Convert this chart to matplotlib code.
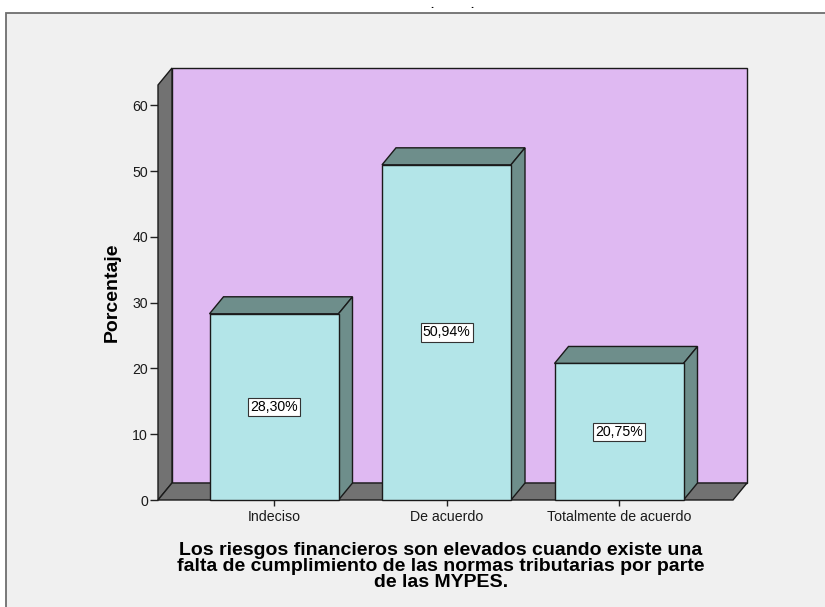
import matplotlib
matplotlib.use("Agg")
import matplotlib.pyplot as plt
from matplotlib.patches import Polygon, Rectangle

categories = ["Indeciso", "De acuerdo", "Totalmente de acuerdo"]
percentages = [28.30, 50.94, 20.75]
value_labels = ["28,30%", "50,94%", "20,75%"]
yticks = [0, 10, 20, 30, 40, 50, 60]
xlabel_text = ("Los riesgos financieros son elevados cuando existe una\n"
               "falta de cumplimiento de las normas tributarias por parte\n"
               "de las MYPES.")
ylabel_text = "Porcentaje"

plt.rcParams['font.family'] = ['Liberation Sans', 'DejaVu Sans']

W, H = 825, 607
fig = plt.figure(figsize=(W / 100, H / 100), dpi=100)
fig.patch.set_facecolor('white')

bg = fig.add_axes([0, 0, 1, 1], zorder=0)
bg.set_xlim(0, W)
bg.set_ylim(H, 0)
bg.axis('off')
bg.add_patch(Rectangle((6, 13), W + 10, H + 10, facecolor='#f0f0f0',
                       edgecolor='#6e6e6e', lw=1.3))
bg.text(432, 7.5, ".", fontsize=8, ha='center', va='baseline', fontweight='bold')
bg.text(472, 7.5, ".", fontsize=8, ha='center', va='baseline', fontweight='bold')

ax = fig.add_axes([158 / W, (H - 500) / H, 575 / W, 415 / H], zorder=1)
ax.set_facecolor('none')
sx = 172.5
xmin = -(274 - 158) / sx
xmax = (733 - 274) / sx
ymax = 63.07
ppy = 415 / ymax
ax.set_xlim(xmin, xmax)
ax.set_ylim(0, ymax)
DX = 14 / sx
DY = 17 / ppy
bw = 129 / sx

wall = '#dfb9f2'
gray = '#727272'
front = '#b3e5e8'
topc = '#6e8e8b'
ec = '#1a1a1a'
lw = 1.0

# back wall
ax.add_patch(Rectangle((xmin + DX, DY), xmax - xmin, ymax, facecolor=wall,
                       edgecolor=ec, lw=lw, clip_on=False, zorder=1))
# left side wall
ax.add_patch(Polygon([(xmin, 0), (xmin + DX, DY), (xmin + DX, ymax + DY), (xmin, ymax)],
                     closed=True, facecolor=gray, edgecolor=ec, lw=lw, clip_on=False, zorder=2))
# floor
ax.add_patch(Polygon([(xmin, 0), (xmax, 0), (xmax + DX, DY), (xmin + DX, DY)],
                     closed=True, facecolor=gray, edgecolor=ec, lw=lw, clip_on=False, zorder=2))

for i, v in enumerate(percentages):
    x0, x1 = i - bw / 2, i + bw / 2
    ax.add_patch(Polygon([(x0, v), (x1, v), (x1 + DX, v + DY), (x0 + DX, v + DY)],
                         closed=True, facecolor=topc, edgecolor=ec, lw=lw, clip_on=False, zorder=3))
    ax.add_patch(Polygon([(x1, 0), (x1 + DX, DY), (x1 + DX, v + DY), (x1, v)],
                         closed=True, facecolor=topc, edgecolor=ec, lw=lw, clip_on=False, zorder=3))
    ax.add_patch(Rectangle((x0, 0), bw, v, facecolor=front, edgecolor=ec, lw=lw,
                           clip_on=False, zorder=4))
    ax.text(i, v / 2, value_labels[i], ha='center', va='center', fontsize=10.2, zorder=5,
            bbox=dict(boxstyle='square,pad=0.15', fc='white', ec='#333333', lw=0.8))

for s in ax.spines.values():
    s.set_visible(False)
ax.set_yticks(yticks)
ax.set_yticklabels([str(t) for t in yticks])
ax.set_xticks(range(len(categories)))
ax.set_xticklabels(categories)
ax.tick_params(axis='y', length=5.8, width=1, color='#222222', pad=1.5, labelsize=10.2,
               labelcolor='#1a1a1a')
ax.tick_params(axis='x', length=4.3, width=1, color='#222222', pad=3, labelsize=10.2,
               labelcolor='#1a1a1a')

bg.text(441, 542, xlabel_text, ha='center', va='top', fontsize=14,
        fontweight='bold', linespacing=0.92)
bg.text(112, 292, ylabel_text, ha='center', va='center', rotation=90,
        fontsize=14, fontweight='bold')

fig.savefig('out.png', dpi=100)
